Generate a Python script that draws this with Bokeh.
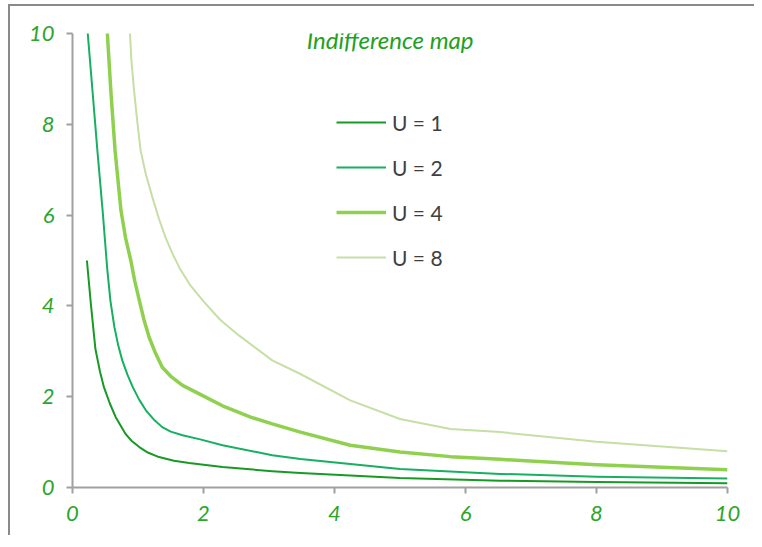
from bokeh.plotting import figure
from bokeh.models import Range1d, Label, Legend, LegendItem, FixedTicker
from bokeh.embed import file_html
from bokeh.resources import INLINE

# ---- data ----
u1_x = [0.22, 0.28, 0.35, 0.42, 0.48, 0.57, 0.66, 0.81, 0.90, 1.02, 1.15, 1.32, 1.55, 1.78, 2.29, 3.05, 3.48, 5.0, 6.53, 8.0, 10.0]
u1_y = [5.0, 4.05, 3.05, 2.55, 2.21, 1.85, 1.55, 1.18, 1.03, 0.89, 0.77, 0.67, 0.59, 0.54, 0.45, 0.36, 0.32, 0.21, 0.15, 0.12, 0.095]

u2_x = [0.23, 0.305, 0.38, 0.46, 0.53, 0.58, 0.64, 0.70, 0.76, 0.84, 0.92, 1.02, 1.12, 1.24, 1.37, 1.50, 1.68, 1.95, 2.29, 3.05, 3.48, 5.0, 6.53, 8.0, 10.0]
u2_y = [10.05, 8.74, 7.42, 6.10, 4.82, 4.10, 3.53, 3.12, 2.80, 2.48, 2.21, 1.93, 1.70, 1.50, 1.33, 1.23, 1.15, 1.06, 0.93, 0.71, 0.63, 0.41, 0.30, 0.235, 0.20]

u4_x = [0.53, 0.585, 0.65, 0.74, 0.81, 0.89, 0.95, 1.02, 1.09, 1.17, 1.27, 1.37, 1.50, 1.68, 1.95, 2.29, 2.72, 3.05, 3.48, 4.24, 5.0, 5.77, 6.53, 8.0, 10.0]
u4_y = [10.05, 8.74, 7.42, 6.10, 5.50, 5.0, 4.55, 4.12, 3.70, 3.31, 2.95, 2.65, 2.45, 2.25, 2.05, 1.80, 1.55, 1.40, 1.22, 0.93, 0.78, 0.68, 0.62, 0.50, 0.39]

u8_x = [0.875, 0.90, 0.94, 0.99, 1.04, 1.12, 1.22, 1.32, 1.42, 1.53, 1.64, 1.80, 2.0, 2.25, 2.54, 3.05, 3.48, 4.24, 5.0, 5.77, 6.53, 8.0, 10.0]
u8_y = [10.05, 9.40, 8.74, 8.05, 7.42, 6.90, 6.39, 5.92, 5.51, 5.14, 4.82, 4.45, 4.1, 3.70, 3.35, 2.80, 2.50, 1.92, 1.51, 1.29, 1.22, 1.01, 0.80]

series_labels = ["U = 1", "U = 2", "U = 4", "U = 8"]
ticks = [0, 2, 4, 6, 8, 10]
title_text = "Indifference map"

colors = ["#179a24", "#16b060", "#8fd14f", "#c5dfa5"]
widths = [2.0, 2.0, 3.5, 2.0]

p = figure(width=746, height=531, output_backend="svg", toolbar_location=None,
           x_range=Range1d(0, 10), y_range=Range1d(0, 10),
           min_border_left=62, min_border_top=27, min_border_right=29, min_border_bottom=50)
p.styles = {"border-top": "2px solid #8a8a8a", "border-left": "2px solid #8a8a8a",
            "margin-top": "4px", "margin-left": "8px"}
p.outline_line_color = None
p.xgrid.visible = False
p.ygrid.visible = False
p.background_fill_color = "white"
p.border_fill_color = "white"

for ax in (p.xaxis[0], p.yaxis[0]):
    ax.ticker = FixedTicker(ticks=ticks)
    ax.minor_tick_line_color = None
    ax.axis_line_color = "#a0a0a0"
    ax.axis_line_width = 2
    ax.major_tick_line_color = "#a0a0a0"
    ax.major_tick_line_width = 2
    ax.major_tick_out = 6
    ax.major_tick_in = 0
    ax.major_label_text_color = "#2aa52a"
    ax.major_label_text_font = "Lato"
    ax.major_label_text_font_style = "italic"
    ax.major_label_text_font_size = "22px"
p.xaxis[0].major_label_standoff = 12
p.yaxis[0].major_label_standoff = 12

renderers = []
for xs, ys, c, w in zip([u1_x, u2_x, u4_x, u8_x], [u1_y, u2_y, u4_y, u8_y], colors, widths):
    r = p.line(xs, ys, line_color=c, line_width=w, line_join="round")
    renderers.append(r)

legend = Legend(items=[LegendItem(label=l, renderers=[r]) for l, r in zip(series_labels, renderers)],
                location=(264, 217), orientation="vertical")
legend.border_line_color = None
legend.background_fill_alpha = 0
legend.padding = 0
legend.margin = 0
legend.glyph_width = 50
legend.glyph_height = 26
legend.label_height = 26
legend.spacing = 19
legend.label_standoff = 6
legend.label_text_font = "Lato"
legend.label_text_font_size = "21px"
legend.label_text_color = "#404040"
p.add_layout(legend, "center")

p.add_layout(Label(x=4.85, y=9.87, text=title_text, text_align="center", text_baseline="middle",
                   text_font="Lato", text_font_style="italic", text_font_size="24px",
                   text_color="#22a022"))

open("out.html", "w").write(file_html(p, INLINE))
